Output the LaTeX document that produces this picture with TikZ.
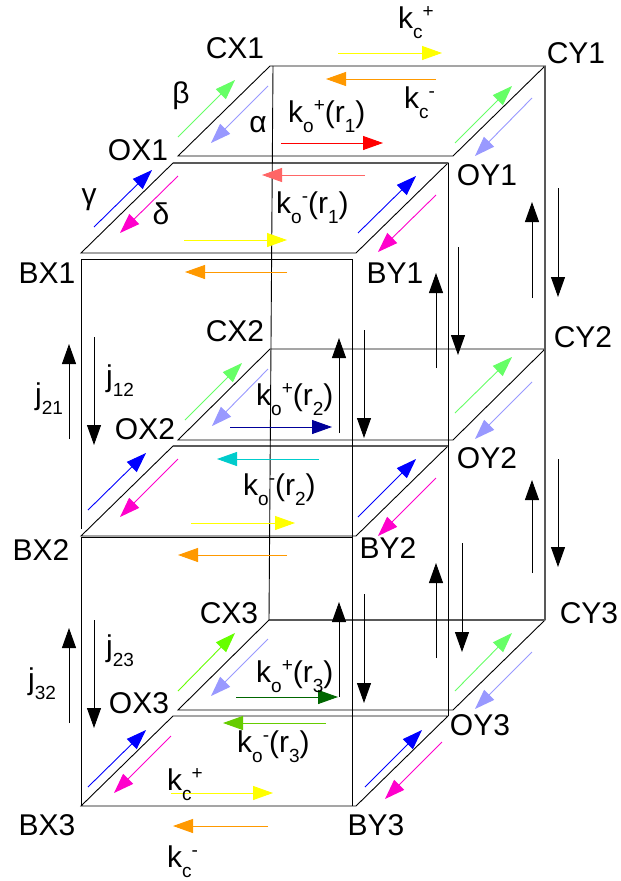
\documentclass[tikz,border=0pt]{standalone}
\usepackage{fontspec}
\setmainfont{Liberation Sans}
\usetikzlibrary{arrows.meta}
\newcommand\sbs[1]{\raisebox{-10pt}{\fontsize{19}{19}\selectfont #1}}
\newcommand\sps[1]{\raisebox{11pt}{\fontsize{19}{19}\selectfont #1}}
\definecolor{cyel}{HTML}{FFFF00}
\definecolor{corg}{HTML}{FF9900}
\definecolor{cred}{HTML}{FF0000}
\definecolor{csal}{HTML}{FF6666}
\definecolor{cgrn}{HTML}{66FF66}
\definecolor{cper}{HTML}{9999FF}
\definecolor{cblu}{HTML}{0000FF}
\definecolor{cmag}{HTML}{FF00CC}
\definecolor{cnav}{HTML}{000099}
\definecolor{ccya}{HTML}{00CCCC}
\definecolor{cdgr}{HTML}{006600}
\definecolor{cygr}{HTML}{66CC00}
\definecolor{clim}{HTML}{66FF00}
\begin{document}
\begin{tikzpicture}[x=1pt,y=-1pt,
  edge/.style={draw=black, line width=0.9pt},
  gedge/.style={draw=black!65, line width=1.3pt},
  arr/.style={-{Triangle[length=20pt,width=14pt]}, line width=0.9pt},
  varr/.style={-{Triangle[length=20pt,width=14pt]}, line width=1pt, black},
  lab/.style={font=\fontsize{30}{36}\selectfont, inner sep=0pt, anchor=base},
  klab/.style={font=\fontsize{30}{36}\selectfont, inner sep=0pt, anchor=base west}]
\useasboundingbox (0,0) rectangle (621,881);
\fill[white] (0,0) rectangle (621,881);
% corners
\coordinate (CX1) at (270,66);  \coordinate (CY1) at (545,66);
\coordinate (OY1) at (453,156); \coordinate (OX1) at (178,156);
\coordinate (PX1) at (173,163); \coordinate (PY1) at (448,163);
\coordinate (QY1) at (356,253); \coordinate (QX1) at (81,253);
\coordinate (CX2) at (270,349); \coordinate (CY2) at (545,349);
\coordinate (OY2) at (453,440); \coordinate (OX2) at (178,440);
\coordinate (PX2) at (173,446); \coordinate (PY2) at (448,446);
\coordinate (QY2) at (356,536); \coordinate (QX2) at (81,536);
\coordinate (CX3) at (269,620); \coordinate (CY3) at (545,620);
\coordinate (OY3) at (453,710); \coordinate (OX3) at (178,710);
\coordinate (PX3) at (173,716); \coordinate (PY3) at (448,716);
\coordinate (QY3) at (356,806); \coordinate (QX3) at (81,806);
\coordinate (R1a) at (81,259); \coordinate (R1b) at (352,259);
\coordinate (R1c) at (81,529);
\coordinate (R2a) at (81,537); \coordinate (R2b) at (352,537);
\coordinate (Rbot) at (352,806);
\coordinate (V1) at (273,66); \coordinate (V2) at (269,620);
\coordinate (W1) at (448,163); \coordinate (W2) at (448,716);
% planes
\draw[edge] (CX1) -- (CY1) -- (OY1) -- (OX1) -- cycle;
\draw[edge] (PX1) -- (PY1) -- (QY1) -- (QX1) -- cycle;
\draw[edge] (CX2) -- (CY2) -- (OY2) -- (OX2) -- cycle;
\draw[edge] (PX2) -- (PY2) -- (QY2) -- (QX2) -- cycle;
\draw[edge] (CX3) -- (CY3) -- (OY3) -- (OX3) -- cycle;
\draw[edge] (PX3) -- (PY3) -- (QY3) -- (QX3) -- cycle;
\draw[gedge] (PX1) -- (PY1);
\draw[gedge] (PX2) -- (PY2);
\draw[gedge] (CX3) -- (CY3);
% front faces and verticals
\draw[edge] (R1c) -- (R1a) -- (R1b) -- (Rbot);
\draw[edge] (R2a) -- (R2b);
\draw[edge] (R2a) -- (QX3);
\draw[edge] (V1) -- (V2);
\draw[gedge] (CY1) -- (CY3);
\draw[edge] (W1) -- (W2);
% layer 1 arrows
\draw[arr, cyel] (338,53) -- (442,53);
\draw[arr, corg] (436,79) -- (326,79);
\draw[arr, cred] (281,143) -- (383,143);
\draw[arr, csal] (365,175) -- (262,175);
\draw[arr, cyel] (184,240) -- (287,240);
\draw[arr, corg] (287,272) -- (185,272);
\draw[arr, cgrn] (178,137) -- (235,80);
\draw[arr, cper] (268,86) -- (211,143);
\draw[arr, cblu] (94,227) -- (152,170);
\draw[arr, cmag] (178,176) -- (120,233);
\draw[arr, cgrn] (455,143) -- (512,86);
\draw[arr, cper] (532,98) -- (475,156);
\draw[arr, cblu] (358,233) -- (416,176);
\draw[arr, cmag] (436,195) -- (378,252);
% layer 2 arrows
\draw[arr, cgrn] (185,420) -- (242,363);
\draw[arr, cper] (268,369) -- (212,426);
\draw[arr, cnav] (230,427) -- (332,427);
\draw[arr, ccya] (319,459) -- (217,459);
\draw[arr, cyel] (191,523) -- (295,523);
\draw[arr, corg] (287,555) -- (178,555);
\draw[arr, cblu] (88,510) -- (146,453);
\draw[arr, cmag] (178,459) -- (120,517);
\draw[arr, cgrn] (455,413) -- (512,357);
\draw[arr, cper] (532,382) -- (475,439);
\draw[arr, cblu] (358,517) -- (416,459);
\draw[arr, cmag] (436,478) -- (378,536);
% layer 3 arrows
\draw[arr, clim] (178,691) -- (235,633);
\draw[arr, cper] (268,639) -- (211,696);
\draw[arr, cdgr] (236,697) -- (338,697);
\draw[arr, cygr] (326,723) -- (223,723);
\draw[arr, cblu] (88,787) -- (146,730);
\draw[arr, cmag] (171,736) -- (114,793);
\draw[arr, cyel] (171,793) -- (273,793);
\draw[arr, corg] (268,826) -- (173,826);
\draw[arr, cgrn] (455,691) -- (512,633);
\draw[arr, cper] (532,652) -- (475,709);
\draw[arr, cblu] (365,787) -- (422,730);
\draw[arr, cmag] (442,742) -- (385,799);
% vertical black arrows
\draw[varr] (532,298) -- (532,202);
\draw[varr] (558,188) -- (558,297);
\draw[varr] (436,368) -- (436,273);
\draw[varr] (458,247) -- (458,355);
\draw[varr] (339,433) -- (339,338);
\draw[varr] (364,330) -- (364,438);
\draw[varr] (532,573) -- (532,480);
\draw[varr] (558,459) -- (558,567);
\draw[varr] (436,658) -- (436,563);
\draw[varr] (462,543) -- (462,652);
\draw[varr] (339,697) -- (339,602);
\draw[varr] (364,594) -- (364,703);
\draw[varr] (69,439) -- (69,344);
\draw[varr] (94,337) -- (94,445);
\draw[varr] (69,723) -- (69,628);
\draw[varr] (94,620) -- (94,728);
% corner labels
\node[lab] (tCX1) at (235,58) {CX1};
\node[lab] (tOX1) at (138,160) {OX1};
\node[lab] (tBX1) at (47,283) {BX1};
\node[lab] (tCY1) at (576,63) {CY1};
\node[lab] (tOY1) at (487,185) {OY1};
\node[lab] (tBY1) at (395,283) {BY1};
\node[lab] (tCX2) at (235,341) {CX2};
\node[lab] (tOX2) at (145,439) {OX2};
\node[lab] (tBX2) at (41,560) {BX2};
\node[lab] (tCY2) at (583,347) {CY2};
\node[lab] (tOY2) at (487,468) {OY2};
\node[lab] (tBY2) at (388,558) {BY2};
\node[lab] (tCX3) at (229,623) {CX3};
\node[lab] (tOX3) at (139,713) {OX3};
\node[lab] (tBX3) at (47,835) {BX3};
\node[lab] (tCY3) at (589,623) {CY3};
\node[lab] (tOY3) at (480,735) {OY3};
\node[lab] (tBY3) at (376,835) {BY3};
% greek labels
\node[lab, anchor=center] (tbeta) at (181,96) {β};
\node[lab, anchor=center] (talpha) at (258,125) {α};
\node[lab, anchor=center] (tgamma) at (89,200) {γ};
\node[lab, anchor=center] (tdelta) at (161,214) {δ};
% rate labels
\node[klab] (tkc1) at (398,28) {k\sbs{c}\sps{+}};
\node[klab] (tkc2) at (404,108) {k\sbs{c}\sps{-}};
\node[klab] (tko1p) at (288,122) {k\sbs{o}\sps{+}(r\sbs{1})};
\node[klab] (tko1m) at (276,213) {k\sbs{o}\sps{-}(r\sbs{1})};
\node[klab] (tko2p) at (256,405) {k\sbs{o}\sps{+}(r\sbs{2})};
\node[klab] (tko2m) at (243,495) {k\sbs{o}\sps{-}(r\sbs{2})};
\node[klab] (tko3p) at (256,682) {k\sbs{o}\sps{+}(r\sbs{3})};
\node[klab] (tko3m) at (237,752) {k\sbs{o}\sps{-}(r\sbs{3})};
\node[klab] (tkc3) at (167,790) {k\sbs{c}\sps{+}};
\node[klab] (tkc4) at (167,867) {k\sbs{c}\sps{-}};
\node[klab] (tj21) at (35,404) {j\sbs{21}};
\node[klab] (tj12) at (106,386) {j\sbs{12}};
\node[klab] (tj32) at (28,689) {j\sbs{32}};
\node[klab] (tj23) at (106,656) {j\sbs{23}};
\end{tikzpicture}
\end{document}
